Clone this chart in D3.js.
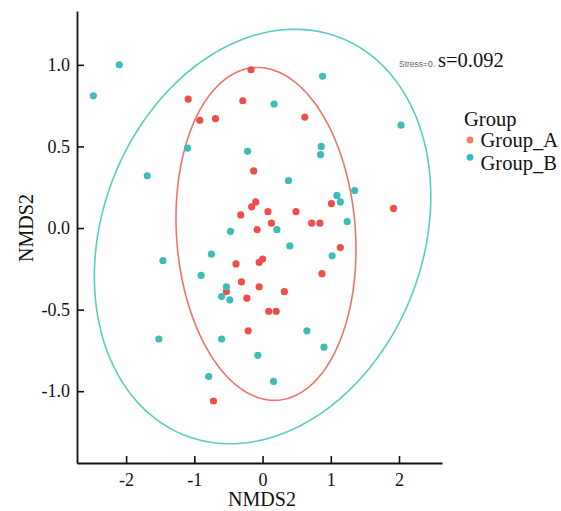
<!DOCTYPE html>
<html>
<head>
<meta charset="utf-8">
<script src="https://cdn.jsdelivr.net/npm/d3@7"></script>
<style>
  body { margin: 0; background: #fff; }
  text { font-family: "Liberation Serif", "Times New Roman", serif; }
</style>
</head>
<body>
<div id="chart"></div>
<script>
// NMDS scores
var groupA_x = [-0.17,-1.09,-0.29,-0.92,-0.69,-0.13,-0.10,-0.16,0.08,-0.32,0.13,-0.08,0.62,1.01,0.49,1.92,0.72,0.84,-0.39,-0.05,0.00,-0.31,-0.05,-0.53,-0.23,0.09,0.20,-0.21,-0.72,1.14,0.87,0.32];
var groupA_y = [0.97,0.79,0.78,0.66,0.67,0.35,0.16,0.13,0.10,0.08,0.03,-0.01,0.68,0.15,0.10,0.12,0.03,0.03,-0.22,-0.21,-0.19,-0.33,-0.36,-0.39,-0.43,-0.51,-0.51,-0.63,-1.06,-0.12,-0.28,-0.39];
var groupB_x = [-2.48,-2.10,-1.69,-1.10,-0.22,0.17,-0.47,0.21,0.88,2.03,0.86,0.85,0.38,1.35,1.09,1.14,1.24,-1.46,-0.75,-0.90,-0.53,-0.60,-0.48,-1.52,-0.60,-0.07,-0.79,0.16,0.40,1.02,0.65,0.90];
var groupB_y = [0.81,1.00,0.32,0.49,0.47,0.76,-0.02,-0.01,0.93,0.63,0.50,0.45,0.29,0.23,0.20,0.16,0.04,-0.20,-0.16,-0.29,-0.36,-0.42,-0.44,-0.68,-0.68,-0.78,-0.91,-0.94,-0.11,-0.17,-0.63,-0.73];

var groups = ["Group_A", "Group_B"];
// ellipse centre and shape matrix [xx, xy, yy] in data units
var ellipseCenter = [[0.05, -0.036], [0.0, -0.052]];
var ellipseShape = [[1.740, -0.125, 1.040], [6.08, 0.604, 1.613]];

var xTicks = [-2, -1, 0, 1, 2];
var yTicks = [-1.0, -0.5, 0.0, 0.5, 1.0];

var dotColor = ["#EE4F49", "#3CBDB6"];
var lineColor = ["#F2716B", "#5ACDC0"];
var keyColor = ["#F47A6E", "#2BBFC0"];

var width = 561, height = 511;

var svg = d3.select("#chart").append("svg")
    .attr("width", width)
    .attr("height", height);

var x = d3.scaleLinear().domain([-2.72, 2.63]).range([77, 442]);
var y = d3.scaleLinear().domain([-1.44, 1.33]).range([463, 11]);

// plain hyphen instead of unicode minus
function hyphen(f) {
  return function(d){ return f(d).replace("\u2212", "-"); };
}

// ellipses
var line = d3.line().x(function(d){ return x(d[0]); }).y(function(d){ return y(d[1]); });
groups.forEach(function(g, i){
  var c = ellipseCenter[i], m = ellipseShape[i];
  var a = Math.sqrt(m[0]), cc = m[1] / a, dd = Math.sqrt(m[2] - cc * cc);
  var pts = d3.range(0, 201).map(function(k){
    var t = k / 200 * 2 * Math.PI;
    return [c[0] + a * Math.cos(t), c[1] + cc * Math.cos(t) + dd * Math.sin(t)];
  });
  svg.append("path")
    .attr("d", line(pts))
    .attr("fill", "none")
    .attr("stroke", lineColor[i])
    .attr("stroke-width", 1.6);
});

// points
var series = [[groupA_x, groupA_y], [groupB_x, groupB_y]];
series.forEach(function(s, i){
  svg.append("g").selectAll("circle")
    .data(s[0])
    .enter().append("circle")
    .attr("cx", function(d){ return x(d); })
    .attr("cy", function(d, j){ return y(s[1][j]); })
    .attr("r", 3.6)
    .attr("fill", dotColor[i]);
});

// axes, ticks point inward
var xAxis = svg.append("g")
    .attr("transform", "translate(0,463)")
    .call(d3.axisBottom(x).tickValues(xTicks).tickFormat(hyphen(d3.format("d")))
      .tickSizeInner(-7).tickSizeOuter(0).tickPadding(10));
var yAxis = svg.append("g")
    .attr("transform", "translate(77,0)")
    .call(d3.axisLeft(y).tickValues(yTicks).tickFormat(hyphen(d3.format(".1f")))
      .tickSizeInner(-7).tickSizeOuter(0).tickPadding(7));

[xAxis, yAxis].forEach(function(ax){
  ax.select(".domain").attr("stroke", "#111").attr("stroke-width", 1.8);
  ax.selectAll(".tick line").attr("stroke", "#111").attr("stroke-width", 1.6);
  ax.selectAll(".tick text")
    .attr("fill", "#111")
    .style("font-family", "Liberation Serif")
    .style("font-size", "18px");
});

svg.append("text")
    .text("NMDS2")
    .attr("x", 262)
    .attr("y", 506)
    .attr("text-anchor", "middle")
    .style("font-size", "20px")
    .attr("fill", "#111");

svg.append("text")
    .text("NMDS2")
    .attr("transform", "translate(33,228) rotate(-90)")
    .attr("text-anchor", "middle")
    .style("font-size", "20px")
    .attr("fill", "#111");

// stress label
svg.append("text")
    .text("Stress=0.")
    .attr("x", 399)
    .attr("y", 67)
    .style("font-family", "Liberation Sans, Arial, sans-serif")
    .style("font-size", "8.5px")
    .attr("fill", "#666");
svg.append("text")
    .text("s=0.092")
    .attr("x", 438)
    .attr("y", 67)
    .style("font-size", "20.5px")
    .attr("fill", "#111");

// legend
svg.append("text")
    .text("Group")
    .attr("x", 464)
    .attr("y", 126)
    .style("font-size", "20.5px")
    .attr("fill", "#111");
var keyDotY = [140, 157.3], keyTextY = [147.3, 170];
groups.forEach(function(g, i){
  svg.append("circle")
    .attr("cx", 470)
    .attr("cy", keyDotY[i])
    .attr("r", 3.4)
    .attr("fill", keyColor[i]);
  svg.append("text")
    .text(g)
    .attr("x", 480.5)
    .attr("y", keyTextY[i])
    .style("font-size", "20.5px")
    .attr("fill", "#111");
});
</script>
</body>
</html>
